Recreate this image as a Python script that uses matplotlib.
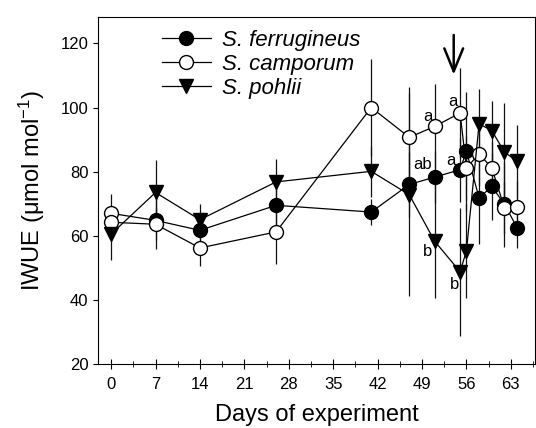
import matplotlib.pyplot as plt
from matplotlib.ticker import MultipleLocator

plt.rcParams['font.family'] = ['Liberation Sans', 'DejaVu Sans']
plt.rcParams['mathtext.default'] = 'regular'

days = [0, 7, 14, 26, 41, 47, 51, 55, 56, 58, 60, 62, 64]

ferr = [67, 64.8, 61.7, 69.5, 67.4, 76, 78.3, 80.6, 86.4, 71.8, 75.4, 69.8, 62.5]
ferr_err = [6, 9, 4, 8, 4, 10, 8, 10, 18.6, 14.4, 10.4, 13.3, 6.3]

camp = [64.2, 63.6, 56.2, 61.2, 100, 90.7, 94.1, 98.3, 81.2, 85.5, 81.2, 68.7, 69]
camp_err = [4, 5, 5.5, 10, 15, 15.6, 13.2, 14, 10, 10, 8, 8, 8]

pohl = [60.5, 73.5, 65, 76.8, 80.1, 72.8, 58.3, 48.8, 55.2, 94.9, 92.8, 86.1, 83.2]
pohl_err = [8, 10, 5, 7, 8, 31.6, 17.8, 20, 14.6, 11, 9.2, 15.3, 11.4]

# letras de significancia (dia, valor, texto)
letras = [(49.9, 97.3, 'a'), (53.8, 102, 'a'), (49.1, 82.2, 'ab'),
          (53.6, 83.5, 'a'), (49.9, 55.2, 'b'), (54.2, 44.8, 'b')]

fig = plt.figure(figsize=(5.36, 4.28), dpi=100)
ax = fig.add_axes([0.183, 0.1495, 0.815, 0.8105])

for y, e in [(ferr, ferr_err), (camp, camp_err), (pohl, pohl_err)]:
    ax.errorbar(days, y, yerr=e, fmt='none', ecolor='#111111', elinewidth=0.9, capsize=0)

ms = 10
ax.plot(days, ferr, '-o', color='black', mfc='black', mec='black', ms=ms, lw=0.9,
        label='S. ferrugineus', markevery=list(range(1, len(days))))
ax.plot(days[:1], ferr[:1], 'o', mfc='white', mec='black', ms=ms)
ax.plot(days, camp, '-o', color='black', mfc='white', mec='black', ms=ms, lw=0.9,
        label='S. camporum')
ax.plot(days, pohl, '-v', color='black', mfc='black', mec='black', ms=ms, lw=0.9,
        label='S. pohlii')

for x, y, t in letras:
    ax.text(x, y, t, fontsize=12, ha='center', va='center')

ax.annotate('', xy=(54, 109.4), xytext=(54, 123.5),
            arrowprops=dict(arrowstyle='->,head_length=1.1,head_width=0.45',
                            lw=1.8, color='black', mutation_scale=15))

ax.set_xlim(-2.05, 66.8)
ax.set_ylim(20, 128.2)
ax.set_xticks(range(0, 64, 7))
ax.xaxis.set_minor_locator(MultipleLocator(3.5))
ax.set_yticks(range(20, 121, 20))
ax.tick_params(axis='x', which='major', direction='inout', length=6.5, labelsize=12, pad=6)
ax.tick_params(axis='x', which='minor', direction='inout', length=4.5)
ax.tick_params(axis='y', direction='out', length=3.5, labelsize=12)

ax.set_xlabel('Days of experiment', fontsize=17, labelpad=9)
ax.set_ylabel('IWUE (μmol mol$^{-1}$)', fontsize=17, labelpad=10)

leg = ax.legend(loc='upper left', bbox_to_anchor=(0.10, 1.02), frameon=False,
                handlelength=2.2, handletextpad=0.5, labelspacing=0.12,
                prop={'style': 'italic', 'size': 16})

fig.savefig('out.png', dpi=100)
